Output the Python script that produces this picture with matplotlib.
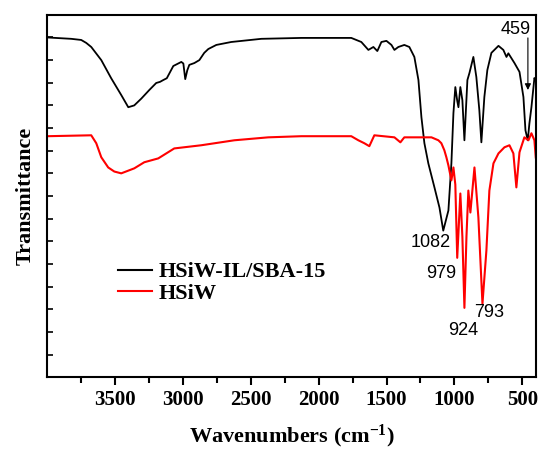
import matplotlib
matplotlib.use("Agg")
import matplotlib.pyplot as plt
from matplotlib.lines import Line2D

plt.rcParams["mathtext.fontset"] = "custom"
plt.rcParams["mathtext.rm"] = "Liberation Serif:bold"
plt.rcParams["mathtext.bf"] = "Liberation Serif:bold"
plt.rcParams["mathtext.default"] = "bf"

# FTIR spectra (wavenumber in cm-1, transmittance in arb. units)
wn_composite = [4000, 3825, 3751, 3714, 3677, 3603, 3530, 3456, 3404, 3360, 3308, 3249,
                3198, 3170, 3146, 3120, 3072, 3013, 2998, 2984, 2969, 2954, 2917, 2880,
                2844, 2814, 2755, 2645, 2423, 2128, 1833, 1760, 1686, 1634, 1597, 1568,
                1538, 1501, 1464, 1442, 1413, 1369, 1332, 1295, 1265, 1243, 1221, 1192,
                1147, 1110, 1082, 1044, 1022, 1007, 993, 979, 970, 956, 941, 926, 904,
                889, 860, 838, 816, 801, 779, 757, 727, 675, 639, 616, 602, 557, 520,
                491, 476, 459, 447, 432, 410, 400]
tr_composite = [15.0, 14.94, 14.89, 14.76, 14.58, 14.0, 13.2, 12.46, 11.92, 12.0, 12.3, 12.68,
                12.99, 13.04, 13.12, 13.2, 13.74, 13.92, 13.85, 13.16, 13.55, 13.79, 13.87, 14.0,
                14.32, 14.49, 14.67, 14.8, 14.94, 14.98, 14.98, 14.98, 14.8, 14.45, 14.58, 14.4,
                14.8, 14.85, 14.67, 14.45, 14.58, 14.67, 14.58, 14.14, 13.12, 11.48, 10.33, 9.44,
                8.38, 7.49, 6.47, 7.36, 9.44, 11.66, 12.81, 12.2, 11.92, 12.81, 12.23, 10.46, 13.12,
                13.43, 14.14, 13.25, 11.79, 10.37, 12.37, 13.56, 14.32, 14.63, 14.45, 14.14, 14.3, 13.87, 13.48,
                12.37, 10.9, 10.46, 11.2, 11.92, 13.21, 13.1]

wn_hsiw = [4000, 3677, 3640, 3603, 3552, 3507, 3456, 3360, 3286, 3183, 3065, 2866, 2622,
           2372, 2128, 1760, 1708, 1664, 1627, 1590, 1442, 1398, 1369, 1169, 1118, 1096,
           1074, 1059, 1044, 1022, 1007, 993, 979, 956, 941, 926, 911, 897, 882, 852,
           823, 793, 764, 742, 712, 675, 631, 594, 565, 543, 520, 484, 454, 432, 410, 400]
tr_hsiw = [10.64, 10.68, 10.33, 9.71, 9.26, 9.08, 9.0, 9.22, 9.49, 9.66, 10.1, 10.24, 10.46,
           10.59, 10.64, 10.64, 10.46, 10.33, 10.2, 10.68, 10.59, 10.37, 10.59, 10.59, 10.46, 10.33,
           10.02, 9.71, 9.35, 8.69, 9.26, 8.5, 5.27, 8.11, 6.2, 3.06, 6.2, 8.24, 7.27, 9.26,
           7.05, 3.24, 5.59, 8.24, 9.44, 9.88, 10.15, 10.24, 9.88, 8.38, 9.93, 10.59, 10.46, 10.77, 10.46, 9.7]

peak_labels = ["1082", "979", "924", "793"]
peak_label_pos = [(1177, 5.94), (1096, 4.57), (934, 2.08), (742, 2.84)]

fig = plt.figure(figsize=(5.39, 4.49), dpi=100)
ax = fig.add_axes([0.088, 0.160, 0.906, 0.807])

ax.plot(wn_composite, tr_composite, color="black", lw=1.3)
ax.plot(wn_hsiw, tr_hsiw, color="red", lw=1.5)

ax.set_xlim(4000, 400)
ax.set_ylim(0, 16)
ax.set_xticks([3500, 3000, 2500, 2000, 1500, 1000, 500])
ax.set_xticks(range(3750, 400, -500), minor=True)
ax.set_yticks(range(0, 17))
ax.set_yticklabels([])

ax.tick_params(axis="x", which="major", direction="out", length=6, width=1.5)
ax.tick_params(axis="x", which="minor", direction="out", length=4, width=1.5)
ax.tick_params(axis="y", direction="in", length=4, width=1.2)
for lab in ax.get_xticklabels():
    lab.set_fontfamily("Liberation Serif")
    lab.set_fontweight("bold")
    lab.set_fontsize(15)
for sp in ax.spines.values():
    sp.set_linewidth(1.5)

ax.set_xlabel("Wavenumbers (cm$^{-1}$)", fontfamily="Liberation Serif",
              fontweight="bold", fontsize=16, labelpad=9)
ax.set_ylabel("Transmittance", fontfamily="Liberation Serif",
              fontweight="bold", fontsize=16, labelpad=5)

for txt, (x, y) in zip(peak_labels, peak_label_pos):
    ax.text(x, y, txt, fontfamily="Liberation Sans", fontsize=13,
            ha="center", va="center")

# 459 marker: label above, arrow pointing down onto the black curve
ax.text(550, 15.34, "459", fontfamily="Liberation Sans", fontsize=13,
        ha="center", va="center")
ax.annotate("", xy=(458, 12.68), xytext=(458, 14.98),
            arrowprops=dict(arrowstyle="-|>", color="black", lw=0.8,
                            shrinkA=0, shrinkB=0, mutation_scale=9))

handles = [Line2D([], [], color="black", lw=1.5), Line2D([], [], color="red", lw=1.5)]
ax.legend(handles, ["HSiW-IL/SBA-15", "HSiW"], loc="upper left",
          bbox_to_anchor=(0.145, 0.318), frameon=False, borderaxespad=0, borderpad=0,
          handlelength=1.5, handletextpad=0.3, labelspacing=0.05,
          prop={"family": "Liberation Serif", "weight": "bold", "size": 16})

fig.savefig("out.png", dpi=100)
